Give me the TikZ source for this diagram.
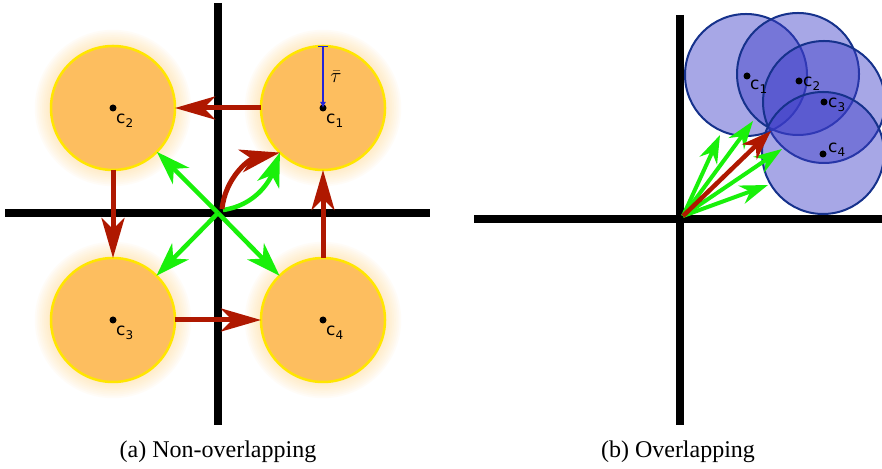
\documentclass[tikz,border=0pt]{standalone}
\usepackage{fontspec}
\setmainfont{Liberation Serif}
\newfontfamily\labelfont{DejaVu Sans}
\usetikzlibrary{arrows.meta}

\definecolor{disc}{RGB}{253,190,95}
\definecolor{rim}{RGB}{255,230,0}
\definecolor{halo}{RGB}{255,222,150}
\definecolor{flow}{RGB}{175,24,0}
\definecolor{grad}{RGB}{25,240,10}
\definecolor{ball}{RGB}{60,60,200}
\definecolor{ballrim}{RGB}{22,50,140}
\definecolor{radius}{RGB}{35,35,215}

% centre label: c with a lowered index
\newcommand\centrelabel[1]{c\raisebox{-4pt}{\fontsize{12}{12}\selectfont #1}}

\begin{document}
\begin{tikzpicture}[x=1pt,y=1pt,
  axis/.style={line width=8pt},
  orangedisc/.style={circle, minimum size=124pt, inner sep=0pt, outer sep=0pt,
    fill=disc, draw=rim, line width=2.5pt},
  bluedisc/.style={circle, minimum size=122pt, inner sep=0pt, outer sep=0pt,
    fill=ball, fill opacity=0.45, draw=ballrim, draw opacity=1, line width=2pt},
  redarrow/.style={draw=flow, line width=5pt,
    -{Stealth[length=40pt,width=23pt,inset=11pt]}},
  greenarrow/.style={draw=grad, line width=4.5pt,
    -{Stealth[length=34pt,width=23pt,inset=10pt]}},
  greenthin/.style={draw=grad, line width=4pt,
    -{Stealth[length=28pt,width=19pt,inset=9pt]}},
  redthin/.style={draw=flow, line width=4.5pt,
    -{Stealth[length=30pt,width=21pt,inset=9pt]}},
  centre/.style={circle, fill=black, inner sep=0pt, minimum size=7pt},
  clabel/.style={font=\labelfont\fontsize{17}{17}\selectfont, inner sep=0pt, anchor=base west},
  taurule/.style={draw=radius, line width=1.2pt,
    {Bar[width=10pt,line width=1.2pt]}-{Latex[length=6pt,width=6pt]}},
  caption/.style={font=\fontsize{24}{28}\selectfont, inner sep=0pt}
]
\useasboundingbox (0,0) rectangle (882,468);
\fill[white] (0,0) rectangle (882,468);

% ---------- (a) non-overlapping discs ----------
\coordinate (aT) at (218,465);
\coordinate (aB) at (218,43);
\coordinate (aL) at (5,255);
\coordinate (aR) at (430,255);
\coordinate (O) at (218,255);
\draw[axis] (aT) -- (aB);
\draw[axis] (aL) -- (aR);

% soft glow round each disc
\foreach \x/\y in {323/360,113/360,113/148,323/148}
  \foreach \k in {1,...,9}
    \fill[halo, opacity=0.07] (\x,\y) circle ({62+1.8*\k});

\node[orangedisc] (c1) at (323,360) {};
\node[orangedisc] (c2) at (113,360) {};
\node[orangedisc] (c3) at (113,148) {};
\node[orangedisc] (c4) at (323,148) {};

\node[centre] (d1) at (c1.center) {};
\node[centre] (d2) at (c2.center) {};
\node[centre] (d3) at (c3.center) {};
\node[centre] (d4) at (c4.center) {};

\draw[taurule] (c1.north) -- (c1.center);
\node[font=\fontsize{22}{22}\selectfont, inner sep=0pt] (tau) at (336,391) {$\bar{\tau}$};

\node[clabel] (l1) at (326,344) {\centrelabel{1}};
\node[clabel] (l2) at (116,344) {\centrelabel{2}};
\node[clabel] (l3) at (116,132) {\centrelabel{3}};
\node[clabel] (l4) at (326,132) {\centrelabel{4}};

\draw[redarrow] (c1) -- (c2);
\draw[redarrow] (c2) -- (c3);
\draw[redarrow] (c3) -- (c4);
\draw[redarrow] (c4) -- (c1);

\draw[greenarrow] (O) -- (c2);
\draw[greenarrow] (O) -- (c3);
\draw[greenarrow] (O) -- (c4);

\coordinate (gs) at (223,258);
\coordinate (rs) at (222,259);
\draw[greenarrow] (gs) to[out=8,in=250] (c1.226);
\draw[redarrow] (rs) to[out=84,in=192] (c1.226);

% ---------- (b) overlapping discs ----------
\coordinate (bT) at (680,453);
\coordinate (bB) at (680,43);
\coordinate (bL) at (474,249);
\coordinate (bR) at (886,249);
\draw[axis] (bT) -- (bB);
\draw[axis] (bL) -- (bR);

\node[bluedisc] (b1) at (746,393) {};
\node[bluedisc] (b2) at (798,394) {};
\node[bluedisc] (b3) at (824,366) {};
\node[bluedisc] (b4) at (823,315) {};

\node[centre] (e1) at (747,392) {};
\node[centre] (e2) at (799,387) {};
\node[centre] (e3) at (824,366) {};
\node[centre] (e4) at (823,314) {};

\node[clabel] (m1) at (750,378) {\centrelabel{1}};
\node[clabel] (m2) at (803,381) {\centrelabel{2}};
\node[clabel] (m3) at (828,360) {\centrelabel{3}};
\node[clabel] (m4) at (828,315) {\centrelabel{4}};

\coordinate (P) at (683,252);
\coordinate (g1) at (753,347);
\coordinate (g2) at (720,333);
\coordinate (g3) at (782,319);
\coordinate (g4) at (768,283);
\coordinate (r1) at (771,337);
\draw[greenthin] (P) -- (g1);
\draw[greenthin] (P) -- (g2);
\draw[greenthin] (P) -- (g3);
\draw[greenthin] (P) -- (g4);
\draw[redthin] (P) -- (r1);

% ---------- captions ----------
\node[caption] (capA) at (218,16) {(a) Non-overlapping};
\node[caption] (capB) at (678,16) {(b) Overlapping};
\end{tikzpicture}
\end{document}
